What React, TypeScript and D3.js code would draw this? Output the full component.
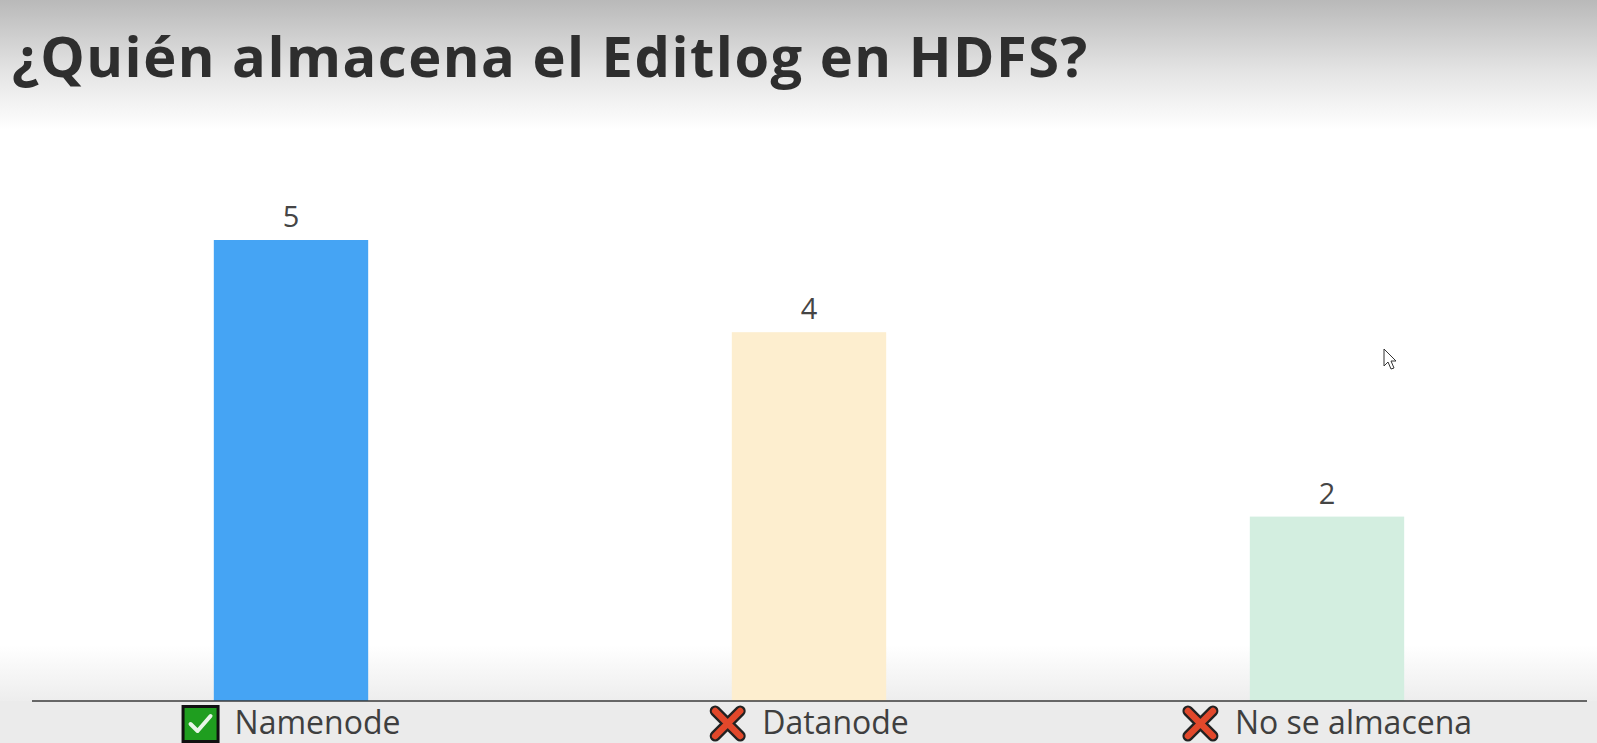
import React from 'react';
import * as d3 from 'd3';

const title = '¿Quién almacena el Editlog en HDFS?';
const categories = ['Namenode', 'Datanode', 'No se almacena'];
const votes = [5, 4, 2];
const isCorrect = [true, false, false];
const barColors = ['#45a4f4', '#fdeecf', '#d3eee0'];
const yMaxValue = 5;

const W = 1597;
const H = 743;
const labelFont = '400 32px "Open Sans"';

function measure(text: string, font: string): number {
  const c = document.createElement('canvas');
  const ctx = c.getContext('2d');
  if (!ctx) return text.length * 16;
  ctx.font = font;
  return ctx.measureText(text).width;
}

export default function App() {
  const x = d3.scaleBand<string>().domain(categories).range([32, 1586]).padding(0);
  const y = d3.scaleLinear().domain([0, yMaxValue]).range([701, 240]);
  const barW = x.bandwidth() * 0.298;
  const baseY = y(0);
  const iconSize = 38;
  const gap = 15;

  return (
    <svg width={W} height={H} style={{ position: 'absolute', left: 0, top: 0 }}>
      <defs>
        <linearGradient id="topG" x1="0" y1="0" x2="0" y2="1">
          <stop offset="0" stopColor="#b9b9b9" />
          <stop offset="0.55" stopColor="#e4e4e4" />
          <stop offset="1" stopColor="#ffffff" />
        </linearGradient>
        <linearGradient id="botG" x1="0" y1="0" x2="0" y2="1">
          <stop offset="0" stopColor="#ffffff" />
          <stop offset="1" stopColor="#ededed" />
        </linearGradient>
      </defs>
      <rect x={0} y={0} width={W} height={H} fill="#ffffff" />
      <rect x={0} y={0} width={W} height={130} fill="url(#topG)" />
      <rect x={0} y={645} width={W} height={56} fill="url(#botG)" />
      <rect x={0} y={701} width={W} height={42} fill="#ebebeb" />
      <text
        x={12}
        y={77}
        fontFamily='"Open Sans", sans-serif'
        fontWeight={700}
        fontSize={56}
        letterSpacing={1.5}
        fill="#2e2e2e"
      >
        {title}
      </text>
      {categories.map((c, i) => {
        const cx = (x(c) as number) + x.bandwidth() / 2;
        return (
          <g key={c}>
            <rect x={cx - barW / 2} y={y(votes[i])} width={barW} height={baseY - y(votes[i])} fill={barColors[i]} />
            <text x={cx} y={y(votes[i]) - 13} textAnchor="middle" fontFamily='"Open Sans", sans-serif' fontSize={29} fill="#454545">
              {votes[i]}
            </text>
          </g>
        );
      })}
      <line x1={32} x2={1587} y1={baseY} y2={baseY} stroke="#3a3a3a" strokeWidth={1.5} />
      {categories.map((c, i) => {
        const cx = (x(c) as number) + x.bandwidth() / 2;
        const tw = measure(c, labelFont);
        const gw = iconSize + gap + tw;
        const ix = cx - gw / 2;
        const iy = 705;
        return (
          <g key={'l' + c}>
            {isCorrect[i] ? (
              <g transform={`translate(${ix},${iy})`}>
                <rect x={1.5} y={1.5} width={iconSize - 3} height={iconSize - 3} fill="#1f9e1f" stroke="#111" strokeWidth={3} />
                <path d="M9,19 L16,26 L29,11" fill="none" stroke="#e8f5e8" strokeWidth={4} strokeLinecap="round" strokeLinejoin="round" />
              </g>
            ) : (
              <g transform={`translate(${ix},${iy})`}>
                <path d="M6,6 L31,31 M31,6 L6,31" stroke="#222" strokeWidth={11} strokeLinecap="round" />
                <path d="M6,6 L31,31 M31,6 L6,31" stroke="#e2482b" strokeWidth={6.5} strokeLinecap="round" />
              </g>
            )}
            <text x={ix + iconSize + gap} y={734} fontFamily='"Open Sans", sans-serif' fontSize={32} fill="#3f3f3f">
              {c}
            </text>
          </g>
        );
      })}
      <path
        d="M1384,349 L1384,366 L1388,362 L1391,369 L1394,368 L1391,361 L1396,361 Z"
        fill="#ffffff"
        stroke="#333"
        strokeWidth={1}
      />
    </svg>
  );
}
